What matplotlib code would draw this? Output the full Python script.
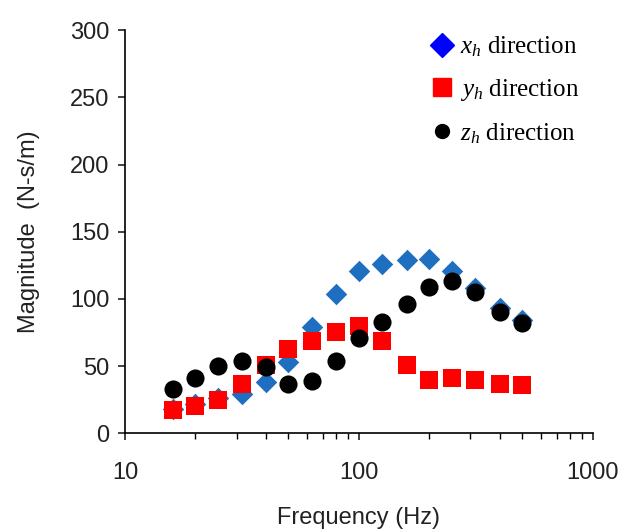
import matplotlib
matplotlib.use("Agg")
import matplotlib.pyplot as plt
from matplotlib.lines import Line2D

freq = [16, 20, 25, 31.5, 40, 50, 63, 80, 100, 125, 160, 200, 250, 315, 400, 500]
x_dir = [18, 22, 26, 29, 38, 53, 79, 104, 121, 126, 129, 130, 121, 108, 93, 84]
y_dir = [17, 20, 25, 37, 51, 63, 69, 75, 80, 69, 51, 40, 41, 40, 37, 36]
z_dir = [33, 41, 50, 54, 49, 37, 39, 54, 71, 83, 96, 109, 113, 105, 90, 82]
labels = [r"$x_h$ direction", r"$y_h$ direction", r"$z_h$ direction"]

plt.rcParams['font.family'] = ['Liberation Sans', 'DejaVu Sans']
plt.rcParams['mathtext.fontset'] = 'custom'
plt.rcParams['mathtext.it'] = 'Liberation Serif:italic'
plt.rcParams['mathtext.rm'] = 'Liberation Serif'
fig = plt.figure(figsize=(6.22, 5.29), dpi=100)
ax = fig.add_axes([0.201, 0.181, 0.752, 0.762])

ax.scatter(freq, x_dir, marker='D', s=120, color='#1f6fc0', zorder=3, linewidths=0)
ax.scatter(freq, y_dir, marker='s', s=150, color='#ff0000', zorder=4, linewidths=0)
ax.scatter(freq, z_dir, marker='o', s=170, color='black', zorder=5, linewidths=0)

ax.set_xscale('log')
ax.set_xlim(10, 1000)
ax.set_ylim(0, 300)
ax.set_yticks([0, 50, 100, 150, 200, 250, 300])
ax.set_xticks([10, 100, 1000])
ax.set_xticklabels(['10', '100', '1000'])
for s in ['top', 'right']:
    ax.spines[s].set_visible(False)
for s in ['left', 'bottom']:
    ax.spines[s].set_linewidth(1.2)
ax.tick_params(axis='both', which='major', direction='out', length=5, width=1.2,
               labelsize=17, colors='#222222')
ax.tick_params(axis='x', which='minor', direction='out', length=4, width=1.0)
ax.tick_params(axis='x', which='major', pad=16)
ax.tick_params(axis='y', which='major', pad=6)
ax.set_xlabel('Frequency (Hz)', fontsize=17, color='#222222', labelpad=16)
ax.set_ylabel('Magnitude  (N-s/m)', fontsize=17, color='#222222', labelpad=22)

handles = [
    Line2D([], [], marker='D', color='#0000ff', linestyle='None', markersize=12),
    Line2D([], [], marker='s', color='#ff0000', linestyle='None', markersize=13),
    Line2D([], [], marker='o', color='black', linestyle='None', markersize=10),
]
leg = ax.legend(handles, labels, loc='upper right', bbox_to_anchor=(1.02, 1.045),
                frameon=False, labelspacing=0.72, handletextpad=0.15, handlelength=1.2,
                prop={'family': 'Liberation Serif', 'size': 18})

fig.savefig('out.png', dpi=100)
